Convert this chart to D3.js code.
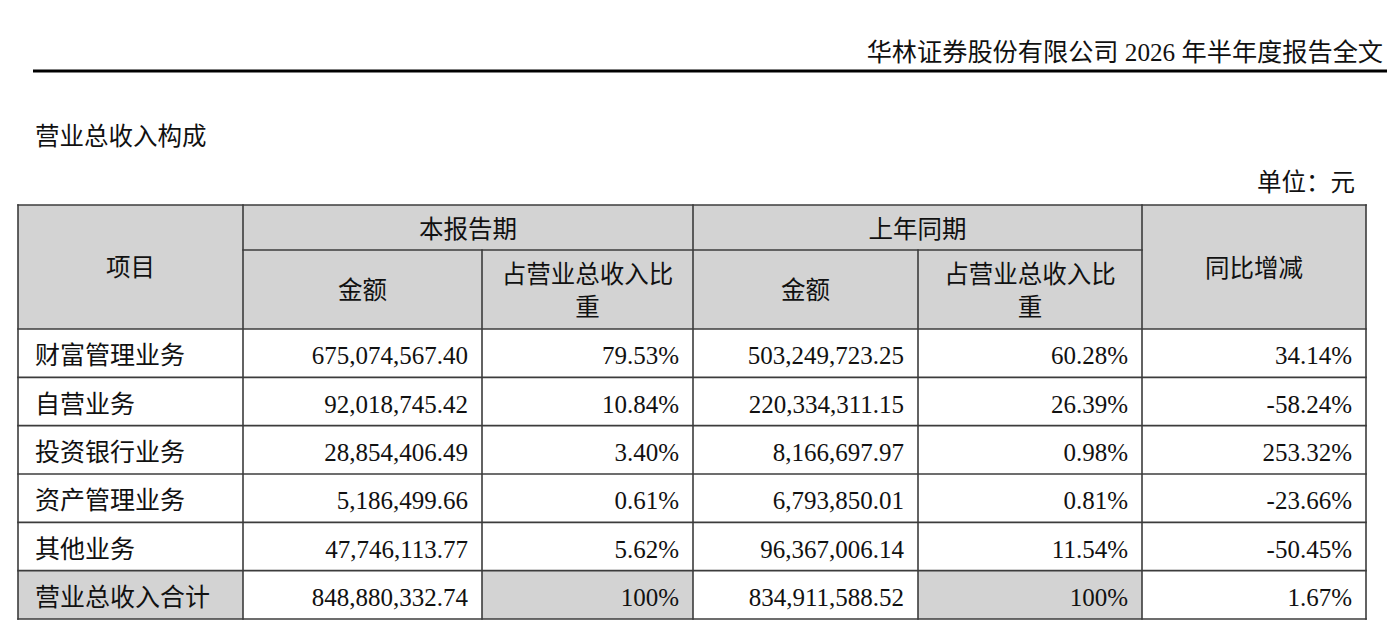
<!DOCTYPE html>
<html>
<head>
<meta charset="utf-8">
<script src="https://cdn.jsdelivr.net/npm/d3@7"></script>
<style>
  html, body { margin: 0; padding: 0; background: #fff; }
  svg text { font-family: "Liberation Serif", "Noto Sans CJK SC", serif; fill: #111; }
</style>
</head>
<body>
<svg id="chart" width="1387" height="633"></svg>
<script>
// data
const items = ["财富管理业务", "自营业务", "投资银行业务", "资产管理业务", "其他业务", "营业总收入合计"];
const curAmount = [675074567.40, 92018745.42, 28854406.49, 5186499.66, 47746113.77, 848880332.74];
const curShare = [79.53, 10.84, 3.40, 0.61, 5.62, 100];
const prevAmount = [503249723.25, 220334311.15, 8166697.97, 6793850.01, 96367006.14, 834911588.52];
const prevShare = [60.28, 26.39, 0.98, 0.81, 11.54, 100];
const yoyChange = [34.14, -58.24, 253.32, -23.66, -50.45, 1.67];

const docTitle = "华林证券股份有限公司 2026 年半年度报告全文";
const tableTitle = "营业总收入构成";
const unitLabel = "单位：元";

const svg = d3.select("#chart");
const W = 1387;
const gray = "#d3d3d3";
const lineCol = "#3c3c3c";

// page header
svg.append("text").attr("x", 1383).attr("y", 61)
  .attr("text-anchor", "end").attr("font-size", 25.2).text(docTitle);
svg.append("line").attr("x1", 33).attr("x2", W).attr("y1", 71).attr("y2", 71)
  .attr("stroke", "#000").attr("stroke-width", 3);

svg.append("text").attr("x", 35).attr("y", 145).attr("font-size", 24.5).text(tableTitle);
svg.append("text").attr("x", 1355).attr("y", 191).attr("text-anchor", "end")
  .attr("font-size", 24.5).text(unitLabel);

// layout
const colEdges = [18, 243, 482, 693, 918, 1142, 1366];
const tTop = 205, midH = 250, headBottom = 329, tBottom = 619;
const y = d3.scaleBand().domain(d3.range(items.length)).range([headBottom, tBottom]);

// plain hyphen for negatives, as in the report
const loc = d3.formatLocale({ decimal: ".", thousands: ",", grouping: [3], currency: ["", ""], minus: "-" });
const fmtAmt = loc.format(",.2f");
const fmtPct = v => (v === 100 ? "100" : loc.format(".2f")(v)) + "%";

const g = svg.append("g");

// header fill
g.append("rect").attr("x", colEdges[0]).attr("y", tTop)
  .attr("width", colEdges[6] - colEdges[0]).attr("height", headBottom - tTop).attr("fill", gray);

// body cells
const columns = [
  { vals: items, fmt: d => d, align: "start", grayTotal: true },
  { vals: curAmount, fmt: fmtAmt, align: "end" },
  { vals: curShare, fmt: fmtPct, align: "end", grayTotal: true },
  { vals: prevAmount, fmt: fmtAmt, align: "end" },
  { vals: prevShare, fmt: fmtPct, align: "end", grayTotal: true },
  { vals: yoyChange, fmt: fmtPct, align: "end" }
];

const last = items.length - 1;
columns.forEach((c, ci) => {
  const x0 = colEdges[ci], x1 = colEdges[ci + 1];
  if (c.grayTotal) {
    g.append("rect").attr("x", x0).attr("y", y(last))
      .attr("width", x1 - x0).attr("height", y.bandwidth()).attr("fill", gray);
  }
  g.selectAll(null).data(c.vals).enter().append("text")
    .attr("x", c.align === "start" ? x0 + 17 : x1 - 14)
    .attr("y", (d, i) => y(i) + y.bandwidth() / 2 + 11)
    .attr("text-anchor", c.align)
    .attr("font-size", 25)
    .text(c.fmt);
});

// header text
function htext(x, yy, t) {
  g.append("text").attr("x", x).attr("y", yy).attr("text-anchor", "middle")
    .attr("font-size", 24.5).text(t);
}
const mid = (a, b) => (colEdges[a] + colEdges[b]) / 2;
htext(mid(0, 1), 276, "项目");
htext(mid(1, 3), 238, "本报告期");
htext(mid(3, 5), 238, "上年同期");
htext(mid(5, 6), 277, "同比增减");
[1, 3].forEach(ci => {
  htext(mid(ci, ci + 1), 299, "金额");
  htext(mid(ci + 1, ci + 2), 283, "占营业总收入比");
  htext(mid(ci + 1, ci + 2), 316, "重");
});

// grid lines
const lines = [];
lines.push([colEdges[0], tTop, colEdges[6], tTop]);
lines.push([colEdges[1], midH, colEdges[5], midH]);
y.domain().forEach(i => lines.push([colEdges[0], y(i), colEdges[6], y(i)]));
lines.push([colEdges[0], tBottom, colEdges[6], tBottom]);
[0, 1, 3, 5, 6].forEach(ci => lines.push([colEdges[ci], tTop, colEdges[ci], tBottom]));
[2, 4].forEach(ci => lines.push([colEdges[ci], midH, colEdges[ci], tBottom]));

g.selectAll("line.grid").data(lines).enter().append("line")
  .attr("class", "grid")
  .attr("x1", d => d[0]).attr("y1", d => d[1])
  .attr("x2", d => d[2]).attr("y2", d => d[3])
  .attr("stroke", lineCol).attr("stroke-width", 1.6)
  .attr("stroke-linecap", "square");
</script>
</body>
</html>
